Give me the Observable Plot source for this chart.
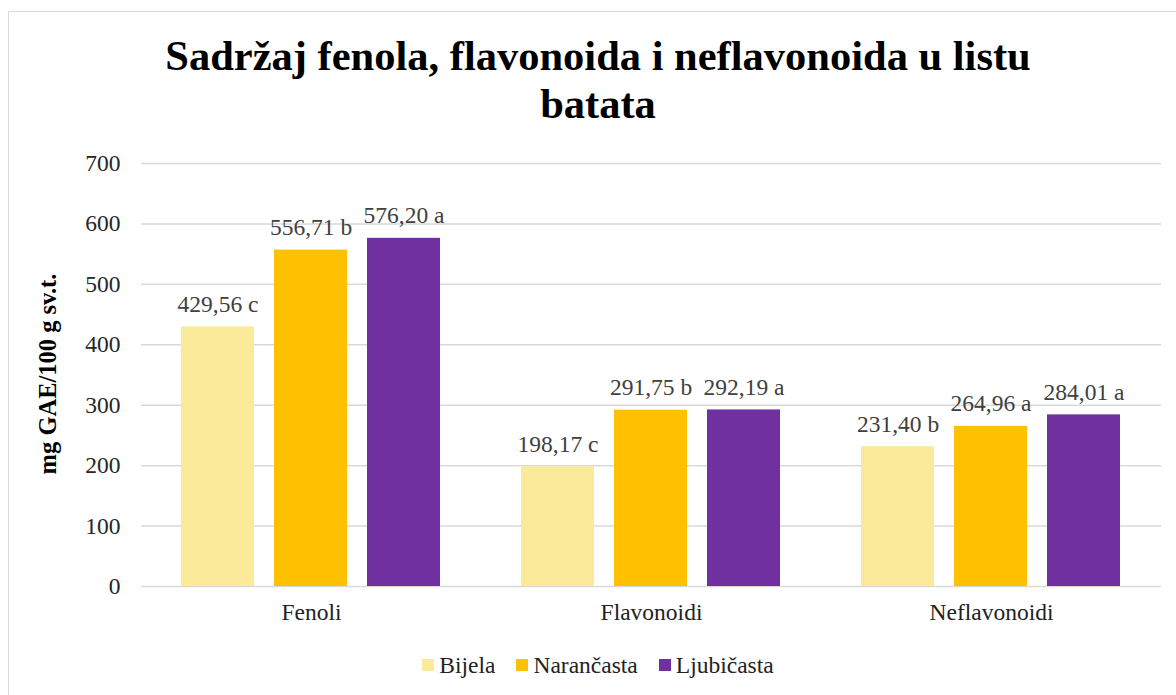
<!DOCTYPE html>
<html><head><meta charset="utf-8">
<script src="https://cdn.jsdelivr.net/npm/d3@7"></script>
<script src="https://cdn.jsdelivr.net/npm/@observablehq/plot@0.6"></script>
<style>
html,body{margin:0;padding:0;background:#fff;overflow:hidden;}
#wrap{position:relative;width:1176px;height:695px;overflow:hidden;font-family:"Liberation Serif","Times New Roman",serif;}
#frame{position:absolute;left:8px;top:11px;width:1300px;height:800px;border:1.5px solid #d9d9d9;box-sizing:border-box;}
#title{position:absolute;left:0;top:32px;width:1196px;text-align:center;font-weight:bold;font-size:42.5px;line-height:48px;color:#000;}
#ylabel{position:absolute;left:48px;top:374px;transform:translate(-50%,-50%) rotate(-90deg);font-weight:bold;font-size:24.5px;white-space:nowrap;color:#000;}
#chart{position:absolute;left:0;top:130px;}
#chart svg, #chart svg text{font-family:"Liberation Serif","Times New Roman",serif !important;}
#legend{position:absolute;left:0;top:651px;width:1196px;display:flex;justify-content:center;gap:21px;font-size:23.5px;line-height:28px;color:#222;font-family:"Liberation Serif","Times New Roman",serif;}
#legend .it{display:flex;align-items:center;gap:5px;}
#legend .sw{width:12px;height:12px;display:inline-block;}
</style></head>
<body><div id="wrap"><div id="frame"></div>
<div id="title">Sadržaj fenola, flavonoida i neflavonoida u listu<br>batata</div>
<div id="ylabel">mg GAE/100 g sv.t.</div>
<div id="chart"></div>
<div id="legend"></div>
</div>
<script>
const categories = ["Fenoli", "Flavonoidi", "Neflavonoidi"];
const seriesNames = ["Bijela", "Narančasta", "Ljubičasta"];
const colors = ["#fbea9a", "#ffc000", "#7030a0"];
const bijela = [429.56, 198.17, 231.40];
const narancasta = [556.71, 291.75, 264.96];
const ljubicasta = [576.20, 292.19, 284.01];
const letters = [["c","b","a"],["c","b","a"],["b","a","a"]];
const yTicks = [0,100,200,300,400,500,600,700];

const seriesValues = [bijela, narancasta, ljubicasta];
const data = [];
categories.forEach((c, ci) => {
  seriesNames.forEach((s, si) => {
    const v = seriesValues[si][ci];
    data.push({cat: c, series: s, value: v,
      label: v.toFixed(2).replace(".", ",") + " " + letters[ci][si]});
  });
});

const serif = "Liberation Serif";
const fs = 23.5;
const chart = Plot.plot({
  width: 1176,
  height: 520,
  marginTop: 33,
  marginBottom: 64,
  marginLeft: 140,
  marginRight: 15,
  style: {fontFamily: serif, fontSize: fs + "px", color: "#262626", background: "transparent"},
  fx: {domain: categories, padding: 0, label: null},
  x: {domain: seriesNames, paddingInner: 0.214, paddingOuter: 0.427, axis: null},
  y: {domain: [0, 700], ticks: yTicks, label: null},
  color: {domain: seriesNames, range: colors},
  marks: [
    Plot.gridY(yTicks, {stroke: "#d9d9d9", strokeOpacity: 1, strokeWidth: 1.5}),
    Plot.axisY(yTicks, {tickSize: 0, tickPadding: 21, fontSize: fs, fontFamily: serif, fill: "#262626", label: null}),
    Plot.axisFx({anchor: "bottom", tickSize: 0, tickPadding: 17, fontSize: fs, fontFamily: serif, fill: "#222", label: null}),
    Plot.barY(data, {fx: "cat", x: "series", y: "value", fill: "series"}),
    Plot.text(data, {fx: "cat", x: "series", y: "value", text: "label", lineAnchor: "bottom", dy: -15, fontSize: fs, fontFamily: serif, fill: "#404040"})
  ]
});
document.getElementById("chart").appendChild(chart);

const leg = document.getElementById("legend");
seriesNames.forEach((s, i) => {
  const it = document.createElement("div"); it.className = "it";
  const sw = document.createElement("span"); sw.className = "sw"; sw.style.background = colors[i];
  const t = document.createElement("span"); t.textContent = s;
  it.appendChild(sw); it.appendChild(t); leg.appendChild(it);
});
</script></body></html>
